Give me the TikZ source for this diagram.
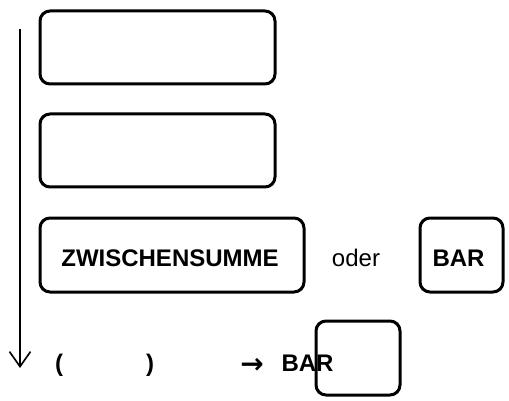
\documentclass[tikz,border=0pt]{standalone}
\usepackage{fontspec}
\usetikzlibrary{arrows.meta}
\setmainfont{Liberation Sans}
\newfontfamily\symfont{DejaVu Sans}
\begin{document}
\begin{tikzpicture}[x=1pt,y=-1pt,
  box/.style={draw=black,line width=3pt,rounded corners=10pt},
  lbl/.style={inner sep=0pt,anchor=base,font=\fontsize{24}{28}\selectfont\bfseries},
  plain/.style={inner sep=0pt,anchor=base,font=\fontsize{24}{28}\selectfont}]
\useasboundingbox (0,0) rectangle (509,401);
\draw[box] (40,11) rectangle (275,84);
\draw[box] (40,114) rectangle (275,187);
\node[box,minimum width=264pt,minimum height=74pt,inner sep=0pt] (zs) at (172,255) {};
\node[lbl] (zst) at (170,266) {ZWISCHENSUMME};
\node[plain] (oder) at (356,266) {oder};
\node[box,minimum width=83pt,minimum height=74pt,inner sep=0pt] (bar) at (461.5,255) {};
\node[lbl] (bart) at (458.5,266) {BAR};
\node[lbl] (lp) at (59,371) {(};
\node[lbl] (rp) at (150,371) {)};
\node[inner sep=0pt,anchor=base,font=\fontsize{28}{32}\selectfont\symfont\bfseries] (arr) at (252,373) {→};
\node[lbl] (bar2) at (307.5,371) {BAR};
\node[box,minimum width=84pt,minimum height=74pt,inner sep=0pt] (b4) at (358,358) {};
\coordinate (s) at (20,29);
\coordinate (e) at (20,368);
\draw[line width=1.6pt,-{Straight Barb[length=15pt,width=21pt,line width=1.6pt]}] (s) -- (e);
\end{tikzpicture}
\end{document}
